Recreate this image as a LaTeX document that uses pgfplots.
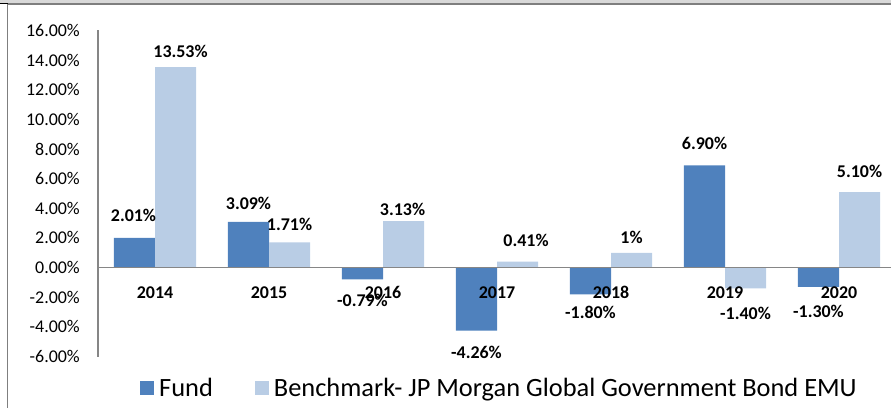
\documentclass[border=0pt]{standalone}
\usepackage{pgfplots}
\pgfplotsset{compat=1.18}
\usepackage{pgfplotstable}
\usepackage{fontspec}
\setmainfont{Carlito}
\definecolor{fundc}{HTML}{4F81BD}
\definecolor{benchc}{HTML}{B9CDE5}
\definecolor{axgray}{HTML}{868686}
\definecolor{framegray}{HTML}{7F7F7F}

\pgfplotstableread{
x y dx dy lab
0 2.01 -1 22 2.01
1 3.09 0 18 3.09
2 -0.79 0 -20.6 -0.79
3 -4.26 0 -22 -4.26
4 -1.80 0 -18.6 -1.80
5 6.90 0 22.4 6.90
6 -1.30 0 -25 -1.30
}\fundtab
\pgfplotstableread{
x y dx dy lab
0 13.53 5 15.5 13.53
1 1.71 0 17.4 1.71
2 3.13 -1 12.3 3.13
3 0.41 8.5 21.6 0.41
4 1.00 0 15 1
5 -1.40 0 -24.6 -1.40
6 5.10 0 21 5.10
}\benchtab

\begin{document}
\begin{tikzpicture}
\path[use as bounding box] (0,0) rectangle (891bp,408bp);
\fill[gray!30] (0,405bp) rectangle (891bp,408bp);
\begin{axis}[
  at={(98bp,51.5bp)}, anchor=south west,
  scale only axis, width=793bp, height=326bp,
  xmin=-0.5, xmax=6.456, ymin=-6, ymax=16,
  axis on top,
  axis x line=middle, axis y line=left,
  hide obscured x ticks=false, hide obscured y ticks=false,
  axis line style={-, draw=axgray, line width=1.4bp},
  x axis line style={-}, y axis line style={-},
  ytick={-6,-4,...,16},
  yticklabel={\pgfmathprintnumber[fixed,fixed zerofill,precision=2]{\tick}\%},
  xtick={0,1,2,3,4,5,6},
  xticklabels={2014,2015,2016,2017,2018,2019,2020},
  major tick length=0pt,
  tick style={draw=none},
  /pgf/number format/assume math mode=true,
  yticklabel style={font=\fontsize{18}{20}\selectfont, inner sep=0pt, anchor=east, xshift=-18bp},
  xticklabel style={font=\fontsize{18}{20}\selectfont\bfseries, anchor=center, yshift=-25bp, inner sep=0pt},
  ybar, bar width=0.36,
  point meta=explicit symbolic,
  nodes near coords={\pgfplotspointmeta\%},
  visualization depends on={\thisrow{dx} \as \ldx},
  visualization depends on={\thisrow{dy} \as \ldy},
  every node near coord/.append style={font=\fontsize{18}{20}\selectfont\bfseries, anchor=center, inner sep=0pt, xshift=\ldx bp, yshift=\ldy bp, text=black},
  legend style={at={(axis description cs:0.053,-0.0966)}, anchor=west, draw=none, fill=none,
    font=\fontsize{26.5}{30}\selectfont, inner sep=0pt,
    /tikz/every even column/.append style={column sep=40bp}},
  legend columns=2,
  legend image code/.code={\fill[#1] (0bp,-7bp) rectangle (14bp,7bp);},
]
\addplot[fill=fundc, draw=none, bar shift=-0.18] table[x=x, y=y, meta=lab] {\fundtab};
\addlegendentry{\hspace{3bp}Fund}
\addplot[fill=benchc, draw=none, bar shift=0.18] table[x=x, y=y, meta=lab] {\benchtab};
\addlegendentry{\hspace{3bp}Benchmark- JP Morgan Global Government Bond EMU}
\end{axis}
\draw[framegray, line width=1.6bp] (7.5bp,404.2bp) -- (891bp,404.2bp);
\draw[framegray, line width=1.4bp] (7.5bp,0bp) -- (7.5bp,404.2bp);
\draw[black, line width=1.4bp] (0bp,404.2bp) -- (7.5bp,404.2bp);
\end{tikzpicture}
\end{document}
